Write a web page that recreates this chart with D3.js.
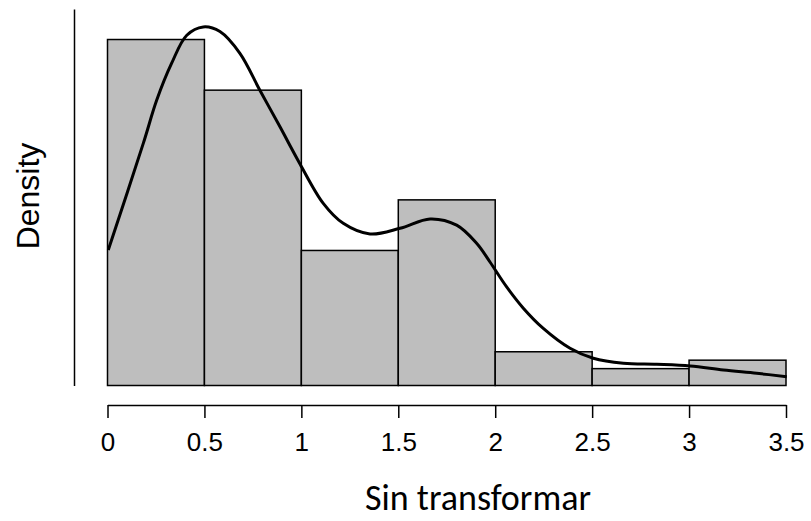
<!DOCTYPE html>
<html>
<head>
<meta charset="utf-8">
<script src="https://cdn.jsdelivr.net/npm/d3@7"></script>
<style>
  html, body { margin: 0; padding: 0; background: #fff; }
  svg { display: block; }
  .arial { font-family: "Liberation Sans", Arimo, Arial, Helvetica, sans-serif; }
  .calib { font-family: Carlito, Lato, sans-serif; }
</style>
</head>
<body>
<svg id="chart" width="811" height="521"></svg>
<script>
// Histogram bins (bin edges) and densities
const binStarts = [0, 0.5, 1, 1.5, 2, 2.5, 3];
const binWidth = 0.5;
const densities = [0.6667, 0.5691, 0.2602, 0.3577, 0.0650, 0.0325, 0.0488];

// Kernel density curve (x, density)
const kdeX = [0.004, 0.185, 0.254, 0.331, 0.409, 0.494, 0.580, 0.683, 0.786, 0.889, 0.993,
              1.113, 1.216, 1.354, 1.509, 1.664, 1.801, 1.904, 1.973, 2.059, 2.145, 2.248,
              2.386, 2.506, 2.661, 2.833, 3.005, 3.177, 3.349, 3.504];
const kdeY = [0.261, 0.467, 0.550, 0.621, 0.675, 0.691, 0.682, 0.640, 0.569, 0.499, 0.427,
              0.351, 0.3125, 0.292, 0.303, 0.321, 0.309, 0.274, 0.238, 0.190, 0.149, 0.110,
              0.0717, 0.0524, 0.0428, 0.0408, 0.0376, 0.0299, 0.0235, 0.0170];

const xTicks = [0, 0.5, 1, 1.5, 2, 2.5, 3, 3.5];
const xTickLabels = ["0", "0.5", "1", "1.5", "2", "2.5", "3", "3.5"];
const xLabel = "Sin transformar";
const yLabel = "Density";

const svg = d3.select("#chart");

const x = d3.scaleLinear().domain([0, 3.5]).range([107.5, 786]);
const y = d3.scaleLinear().domain([0, 0.7255]).range([385.5, 9]);

// Bars
svg.append("g")
  .selectAll("rect")
  .data(binStarts.map((s, i) => ({ s, d: densities[i] })))
  .join("rect")
  .attr("x", d => x(d.s))
  .attr("y", d => y(d.d))
  .attr("width", d => x(d.s + binWidth) - x(d.s))
  .attr("height", d => y(0) - y(d.d))
  .attr("fill", "#bebebe")
  .attr("stroke", "#000")
  .attr("stroke-width", 1.5);

// Density curve
const line = d3.line()
  .x((d, i) => x(kdeX[i]))
  .y((d, i) => y(kdeY[i]))
  .curve(d3.curveCatmullRom.alpha(0.5));

svg.append("path")
  .attr("d", line(kdeX))
  .attr("fill", "none")
  .attr("stroke", "#000")
  .attr("stroke-width", 3)
  .attr("stroke-linejoin", "round");

// X axis
const xAxis = d3.axisBottom(x)
  .tickValues(xTicks)
  .tickFormat((d, i) => xTickLabels[i])
  .tickSize(13)
  .tickSizeOuter(0)
  .tickPadding(15);

const gx = svg.append("g")
  .attr("transform", "translate(0,405)")
  .call(xAxis);
gx.attr("font-family", null).attr("font-size", null);
gx.select(".domain").attr("stroke", "#000").attr("stroke-width", 1.5);
gx.selectAll(".tick line").attr("stroke", "#000").attr("stroke-width", 1.5);
gx.selectAll(".tick text")
  .attr("class", "arial")
  .attr("fill", "#000")
  .style("font-size", "26px");

// Y axis (line only, no ticks)
const yAxis = d3.axisLeft(y).tickValues([]).tickSizeOuter(0);
const gy = svg.append("g")
  .attr("transform", "translate(74,0)")
  .call(yAxis);
gy.select(".domain").attr("stroke", "#000").attr("stroke-width", 1.5);

// Axis titles
svg.append("text")
  .attr("class", "calib")
  .attr("x", 365)
  .attr("y", 510)
  .attr("text-anchor", "start")
  .style("font-size", "36px")
  .attr("fill", "#000")
  .text(xLabel);

svg.append("text")
  .attr("class", "arial")
  .attr("transform", "translate(39,196) rotate(-90)")
  .attr("text-anchor", "middle")
  .style("font-size", "32px")
  .attr("fill", "#000")
  .text(yLabel);
</script>
</body>
</html>
